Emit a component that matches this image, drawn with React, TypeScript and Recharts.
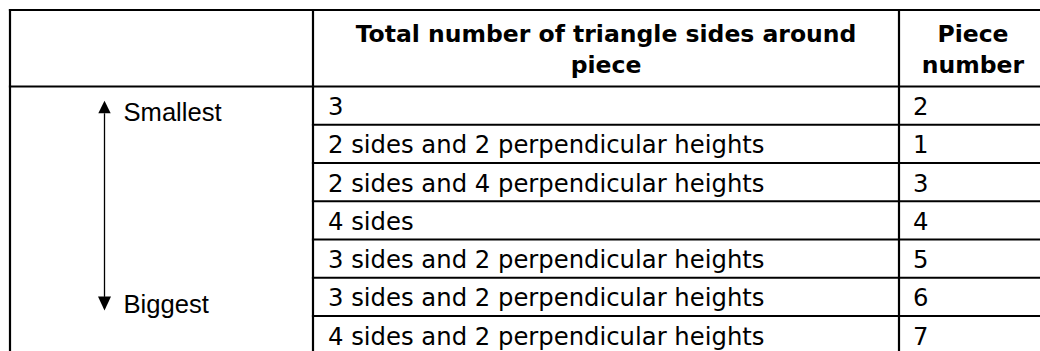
import { ScatterChart, Scatter, XAxis, YAxis, ReferenceLine } from 'recharts'

// table content
const headerDescription = ['Total number of triangle sides around', 'piece']
const headerPiece = ['Piece', 'number']
const descriptions = [
  '3',
  '2 sides and 2 perpendicular heights',
  '2 sides and 4 perpendicular heights',
  '4 sides',
  '3 sides and 2 perpendicular heights',
  '3 sides and 2 perpendicular heights',
  '4 sides and 2 perpendicular heights',
]
const pieceNumbers = ['2', '1', '3', '4', '5', '6', '7']
const scaleLabels = ['Smallest', 'Biggest']
const scaleRows = [0, 5]

// layout (pixels on x, rows on y)
const W = 1060
const H = 360
const COL_EDGES = [10, 313, 899, 1047]
const TEXT_PAD = 15
const ARROW_X = 104.5
const LABEL_X = 123.5
const LINE_W = 2.2
const BODY_FONT = '"DejaVu Sans", Verdana, sans-serif'
const LABEL_FONT = '"Liberation Sans", Arial, sans-serif'

const headerData = [
  { x: (COL_EDGES[1] + COL_EDGES[2]) / 2, y: -1, lines: headerDescription },
  { x: (COL_EDGES[2] + COL_EDGES[3]) / 2, y: -1, lines: headerPiece },
]
const descData = descriptions.map((d, i) => ({ x: COL_EDGES[1] + TEXT_PAD, y: i + 0.5, text: d }))
const pieceData = pieceNumbers.map((p, i) => ({ x: COL_EDGES[2] + TEXT_PAD - 1, y: i + 0.5, text: p }))
const scaleData = scaleLabels.map((l, i) => ({ x: ARROW_X, y: scaleRows[i] + 1, text: l, dir: i === 0 ? 'up' : 'down' }))

function HeaderCell({ cx, cy, payload }: any) {
  return (
    <text x={cx} textAnchor="middle" fontFamily={BODY_FONT} fontWeight="bold" fontSize={23.5} fill="#000">
      <tspan x={cx} y={cy - 6.5}>{payload.lines[0]}</tspan>
      <tspan x={cx} y={cy + 25}>{payload.lines[1]}</tspan>
    </text>
  )
}

function BodyCell({ cx, cy, payload }: any) {
  return (
    <text x={cx} y={cy + 9.5} fontFamily={BODY_FONT} fontSize={24.3} fill="#000">
      {payload.text}
    </text>
  )
}

function ScaleLabel({ cx, cy, payload }: any) {
  const up = payload.dir === 'up'
  const pts = up
    ? `${cx - 6.2},${cy - 11.5} ${cx + 6.2},${cy - 11.5} ${cx},${cy - 24}`
    : `${cx - 6.5},${cy - 19.5} ${cx + 6.5},${cy - 19.5} ${cx},${cy - 5.5}`
  return (
    <g>
      <polygon points={pts} fill="#000" />
      <text x={LABEL_X - ARROW_X + cx} y={cy - 3.4} fontFamily={LABEL_FONT} fontSize={25.6} fill="#000">
        {payload.text}
      </text>
    </g>
  )
}

const hLines = [
  { y: -2, from: COL_EDGES[0] },
  { y: 0, from: COL_EDGES[0] },
  ...descriptions.slice(1).map((_, i) => ({ y: i + 1, from: COL_EDGES[1] })),
  { y: descriptions.length, from: COL_EDGES[0] },
]

export default function App() {
  return (
    <div style={{ position: 'absolute', left: 0, top: 0, width: 1040, height: 351, overflow: 'hidden', background: '#fff' }}>
      <ScatterChart width={W} height={H} margin={{ top: 10, right: 0, bottom: 5.75, left: 0 }}>
        <XAxis type="number" dataKey="x" domain={[0, W]} hide />
        <YAxis type="number" dataKey="y" domain={[-2, 7]} reversed hide />
        {hLines.map((l) => (
          <ReferenceLine
            key={`h${l.y}`}
            segment={[{ x: l.from, y: l.y }, { x: COL_EDGES[3], y: l.y }]}
            stroke="#000"
            strokeWidth={LINE_W}
            strokeLinecap="square"
          />
        ))}
        {COL_EDGES.map((x) => (
          <ReferenceLine
            key={`v${x}`}
            segment={[{ x, y: -2 }, { x, y: 7 }]}
            stroke="#000"
            strokeWidth={LINE_W}
            strokeLinecap="square"
          />
        ))}
        <ReferenceLine
          segment={[{ x: ARROW_X, y: 0.7 }, { x: ARROW_X, y: 5.5 }]}
          stroke="#000"
          strokeWidth={1.3}
        />
        <Scatter data={headerData} shape={<HeaderCell />} isAnimationActive={false} />
        <Scatter data={descData} shape={<BodyCell />} isAnimationActive={false} />
        <Scatter data={pieceData} shape={<BodyCell />} isAnimationActive={false} />
        <Scatter data={scaleData} shape={<ScaleLabel />} isAnimationActive={false} />
      </ScatterChart>
    </div>
  )
}
